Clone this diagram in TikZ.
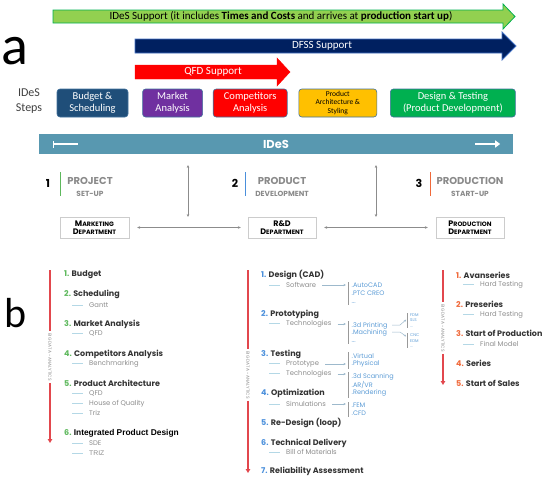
\documentclass[tikz,border=0pt]{standalone}
\usepackage{fontspec}
\setmainfont{Carlito}
\newfontfamily\montf{Poppins}
\newfontfamily\arialf{Liberation Sans}
\usetikzlibrary{positioning, arrows.meta}

\definecolor{supgreen}{HTML}{92D050}
\definecolor{supgreenb}{HTML}{00B050}
\definecolor{dfssblue}{HTML}{002060}
\definecolor{dfssedge}{HTML}{4472C4}
\definecolor{budblue}{HTML}{1F4E79}
\definecolor{mktpurple}{HTML}{7030A0}
\definecolor{archyellow}{HTML}{FFC000}
\definecolor{dsgreen}{HTML}{00B050}
\definecolor{boxedge}{HTML}{41719C}
\definecolor{bandblue}{HTML}{5898B0}
\definecolor{numgreen}{HTML}{5DB85C}
\definecolor{numblue}{HTML}{4A8FDB}
\definecolor{numorange}{HTML}{F0693A}
\definecolor{bdred}{HTML}{E2474D}
\definecolor{headgray}{HTML}{333333}
\definecolor{subgray}{HTML}{8C8C8C}
\definecolor{toolblue}{HTML}{5B9BD5}
\definecolor{dashblue}{HTML}{B4D8E6}
\definecolor{arrowblue}{HTML}{9DB9CC}
\definecolor{phasegray}{HTML}{8A8A8A}

\newcommand{\subdash}{\textcolor{dashblue}{\rule[0.55ex]{11pt}{0.5pt}}\hspace{6pt}}

\tikzset{
  stepbox/.style={draw=boxedge, line width=0.6, rounded corners=3pt, minimum height=28, text=white,
    align=center, font=\fontsize{10.5}{12}\selectfont, inner sep=1pt},
  suptext/.style={font=\fontsize{11}{12}\selectfont, inner sep=0},
  band/.style={fill=bandblue, minimum width=474, minimum height=20, inner sep=0, text=white,
    font=\montf\bfseries\fontsize{11.5}{12}\selectfont},
  bandmark/.style={white, line width=1.6},
  phnum/.style={font=\montf\bfseries\fontsize{11}{12}\selectfont, inner sep=0},
  phtxt/.style={align=center, text=phasegray, font=\montf\bfseries\fontsize{10}{11.5}\selectfont, inner sep=0},
  dept/.style={draw=black!20, minimum width=68, minimum height=21, inner sep=0, align=center,
    font=\montf\bfseries\fontsize{6.3}{8.5}\selectfont},
  link/.style={draw=black!45, line width=0.6, {Stealth[length=3pt,width=2.6pt]}-{Stealth[length=3pt,width=2.6pt]}},
  bdline/.style={draw=bdred, line width=1.3},
  bdtext/.style={rotate=-90, text=subgray, font=\montf\fontsize{4.4}{5}\selectfont, inner sep=2pt},
  item/.style={anchor=west, inner sep=0, text=headgray, font=\montf\bfseries\fontsize{8}{9}\selectfont},
  sub/.style={anchor=west, inner sep=0, text=subgray, font=\montf\fontsize{6.8}{8}\selectfont},
  tools/.style={anchor=north west, align=left, inner xsep=3.5pt, inner ysep=1pt, text=toolblue,
    font=\montf\fontsize{6.5}{7.8}\selectfont},
  tinytools/.style={anchor=north west, align=left, inner xsep=3pt, inner ysep=0.5pt, text=toolblue,
    font=\montf\fontsize{4}{5.5}\selectfont},
  toolbar/.style={draw=black!40, line width=0.8},
  toarr/.style={draw=arrowblue, line width=0.5, -{Stealth[length=2.5pt,width=2.2pt]}, shorten <=6pt, shorten >=2pt}
}

\begin{document}
\begin{tikzpicture}[x=1pt, y=-1pt]
\useasboundingbox (0,0) rectangle (550,480);

% part a %
\node[inner sep=0, font=\fontsize{56}{56}\selectfont] (la) at (15,51.5) {a};

% support arrows %
\draw[fill=supgreen, draw=supgreenb, line width=0.8] (53,10) -- (503,10) -- (503,4) -- (515,16.5) -- (503,29) -- (503,23) -- (53,23) -- cycle;
\node[suptext] (sg) at (281,16.5) {IDeS Support (it includes \textbf{Times and Costs} and arrives at \textbf{production start up})};
\draw[fill=dfssblue, draw=dfssedge, line width=0.8] (135,39) -- (502,39) -- (502,32) -- (516,46) -- (502,60) -- (502,53) -- (135,53) -- cycle;
\node[suptext, text=white] (sd) at (322,46) {DFSS Support};
\draw[fill=red, draw=red] (135,65) -- (277,65) -- (277,58) -- (290,72) -- (277,86) -- (277,79) -- (135,79) -- cycle;
\node[suptext, text=white] (sq) at (213,72) {QFD Support};

% steps %
\node[align=center, text=black!75, font=\fontsize{12}{15}\selectfont] (st) at (29,101) {IDeS\\Steps};
\node[stepbox, fill=budblue, minimum width=71] (bud) at (92.5,103) {Budget \&\\Scheduling};
\node[stepbox, fill=mktpurple, minimum width=60, right=14pt of bud] (mkt) {Market\\Analysis};
\node[stepbox, fill=red, minimum width=74, right=10pt of mkt] (cmp) {Competitors\\Analysis};
\node[stepbox, fill=archyellow, minimum width=78, text=black, font=\fontsize{7.5}{8.6}\selectfont, right=11pt of cmp] (arc) {Product\\Architecture \&\\Styling};
\node[stepbox, fill=dsgreen, minimum width=125, right=13pt of arc] (dst) {Design \& Testing\\(Product Development)};

% IDeS band %
\node[band] (band) at (276,144) {IDeS};
\draw[bandmark, {Bar[width=7pt]}-] ([xshift=14pt]band.west) -- ++(25,0);
\draw[bandmark, -{Triangle[length=5pt,width=7pt]}] ([xshift=-38pt]band.east) -- ++(25,0);

% phases %
\node[phnum] (n1) at (48,183) {1};
\draw[numgreen, line width=1] (60,172) -- (60,196);
\node[phtxt] (ph1) at (90,187) {PROJECT\\{\fontsize{7.4}{8}\selectfont SET-UP}};
\node[phnum] (n2) at (235,183) {2};
\draw[numblue, line width=1] (245,172) -- (245,196);
\node[phtxt] (ph2) at (282,187) {PRODUCT\\{\fontsize{7.4}{8}\selectfont DEVELOPMENT}};
\node[phnum] (n3) at (419,183) {3};
\draw[numorange, line width=1] (430,172) -- (430,196);
\node[phtxt] (ph3) at (470,187) {PRODUCTION\\{\fontsize{7.4}{8}\selectfont START-UP}};

% departments %
\node[dept, minimum width=69] (mktd) at (94.5,227.5) {{\fontsize{8}{8}\selectfont M}ARKETING\\{\fontsize{8}{8}\selectfont D}EPARTMENT};
\node[dept] (rndd) at (282,227.5) {{\fontsize{8}{8}\selectfont R\&D}\\{\fontsize{8}{8}\selectfont D}EPARTMENT};
\node[dept] (prdd) at (470,227.5) {{\fontsize{8}{8}\selectfont P}RODUCTION\\{\fontsize{8}{8}\selectfont D}EPARTMENT};

\coordinate (v1a) at (188,165);
\coordinate (v1b) at (188,217);
\coordinate (v2a) at (376,165);
\coordinate (v2b) at (376,217);
\draw[link] (v1a) -- (v1b);
\draw[link] (v2a) -- (v2b);
\draw[link, shorten <=8pt, shorten >=7pt] (mktd) -- (rndd);
\draw[link, shorten <=8pt, shorten >=8pt] (rndd) -- (prdd);

% part b %
\node[inner sep=0, font=\fontsize{42}{42}\selectfont] (lb) at (16,313.5) {b};

% project set-up column
\coordinate (bd1top) at (50,270);
\coordinate (bd1bot) at (50,443);
\node[bdtext] (bd1) at (50,357) {BIG DATA - ANALYTICS};
\draw[bdline] (bd1top) -- (bd1);
\draw[bdline, -{Triangle[length=4pt,width=4.5pt]}] (bd1) -- (bd1bot);

\node[item] (b1) at (64,275) {\textcolor{numgreen}{1.} Budget};
\node[item] (b2) at (64,294) {\textcolor{numgreen}{2.} Scheduling};
\node[sub] (b2a) at (72,305) {\subdash Gantt};
\node[item] (b3) at (64,324) {\textcolor{numgreen}{3.} Market Analysis};
\node[sub] (b3a) at (72,334) {\subdash QFD};
\node[item] (b4) at (64,354) {\textcolor{numgreen}{4.} Competitors Analysis};
\node[sub] (b4a) at (72,364) {\subdash Benchmarking};
\node[item] (b5) at (64,383) {\textcolor{numgreen}{5.} Product Architecture};
\node[sub] (b5a) at (72,394) {\subdash QFD};
\node[sub] (b5b) at (72,404) {\subdash House of Quality};
\node[sub] (b5c) at (72,413) {\subdash Triz};
\node[item] (b6) at (64,433) {\textcolor{numgreen}{6.} {\arialf\bfseries\fontsize{8.4}{9}\selectfont\color{black}Integrated Product Design}};
\node[sub] (b6a) at (72,443) {\subdash SDE};
\node[sub] (b6b) at (72,453) {\subdash {\arialf TRIZ}};

% product development column
\coordinate (bd2top) at (248,270);
\coordinate (bd2bot) at (248,473);
\node[bdtext] (bd2) at (248,375) {BIG DATA - ANALYTICS};
\draw[bdline] (bd2top) -- (bd2);
\draw[bdline, -{Triangle[length=4pt,width=4.5pt]}] (bd2) -- (bd2bot);

\node[item] (c1) at (261,275) {\textcolor{numblue}{1.} Design (CAD)};
\node[sub] (c1a) at (269,285) {\subdash Software};
\node[tools] (c1t) at (348,282) {.AutoCAD\\.PTC CREO\\...};
\draw[toolbar] (c1t.north west) -- (c1t.south west);
\draw[toarr] (c1a.east) -- (c1a.east -| c1t.west);

\node[item] (c2) at (261,314) {\textcolor{numblue}{2.} Prototyping};
\node[sub] (c2a) at (269,324) {\subdash Technologies};
\node[tools] (c2t) at (348,321) {.3d Printing\\.Machining\\...};
\draw[toolbar] (c2t.north west) -- (c2t.south west);
\draw[toarr] (c2a.east) -- (c2a.east -| c2t.west);
\coordinate (c2p) at (392,325);
\coordinate (c2pe) at (407,319);
\coordinate (c2m) at (392,332);
\coordinate (c2me) at (407,337);
\node[tinytools] (c2pt) at (407,313) {FDM\\SLS\\...};
\node[tinytools] (c2mt) at (407,333) {CNC\\EDM\\...};
\draw[toolbar, line width=0.6] (c2pt.north west) -- (c2pt.south west);
\draw[toolbar, line width=0.6] (c2mt.north west) -- (c2mt.south west);
\draw[toarr, shorten <=0pt, shorten >=1pt] (c2p) -- ++(8,0) -- (c2pe);
\draw[toarr, shorten <=0pt, shorten >=1pt] (c2m) -- ++(8,0) -- (c2me);

\node[item] (c3) at (261,354) {\textcolor{numblue}{3.} Testing};
\node[sub] (c3a) at (269,364) {\subdash Prototype};
\node[tools] (c3t) at (348,352) {.Virtual\\.Physical};
\draw[toolbar] (c3t.north west) -- (c3t.south west);
\draw[toarr] (c3a.east) -- (c3a.east -| c3t.west);
\node[sub] (c3b) at (269,374) {\subdash Technologies};
\node[tools] (c3u) at (348,372) {.3d Scanning\\.AR/VR\\.Rendering};
\draw[toolbar] (c3u.north west) -- (c3u.south west);
\draw[toarr] (c3b.east) -- (c3b.east -| c3u.west);

\node[item] (c4) at (261,393) {\textcolor{numblue}{4.} Optimization};
\node[sub] (c4a) at (269,404) {\subdash Simulations};
\node[tools] (c4t) at (348,402) {.FEM\\.CFD};
\draw[toolbar] (c4t.north west) -- (c4t.south west);
\draw[toarr] (c4a.east) -- (c4a.east -| c4t.west);

\node[item] (c5) at (261,423) {\textcolor{numblue}{5.} Re-Design (loop)};
\node[item] (c6) at (261,443) {\textcolor{numblue}{6.} Technical Delivery};
\node[sub] (c6a) at (269,452) {\subdash Bill of Materials};
\node[item] (c7) at (261,471) {\textcolor{numblue}{7.} Reliability Assessment};

% production start-up column
\coordinate (bd3top) at (443,270);
\coordinate (bd3bot) at (443,385);
\node[bdtext] (bd3) at (443,328) {BIG DATA - ANALYTICS};
\draw[bdline] (bd3top) -- (bd3);
\draw[bdline, -{Triangle[length=4pt,width=4.5pt]}] (bd3) -- (bd3bot);

\node[item] (d1) at (456,275) {\textcolor{numorange}{1.} Avanseries};
\node[sub] (d1a) at (463,285) {\subdash Hard Testing};
\node[item] (d2) at (456,304) {\textcolor{numorange}{2.} Preseries};
\node[sub] (d2a) at (463,315) {\subdash Hard Testing};
\node[item] (d3) at (456,333) {\textcolor{numorange}{3.} Start of Production};
\node[sub] (d3a) at (463,344) {\subdash Final Model};
\node[item] (d4) at (456,363) {\textcolor{numorange}{4.} Series};
\node[item] (d5) at (456,383) {\textcolor{numorange}{5.} Start of Sales};
\end{tikzpicture}
\end{document}
